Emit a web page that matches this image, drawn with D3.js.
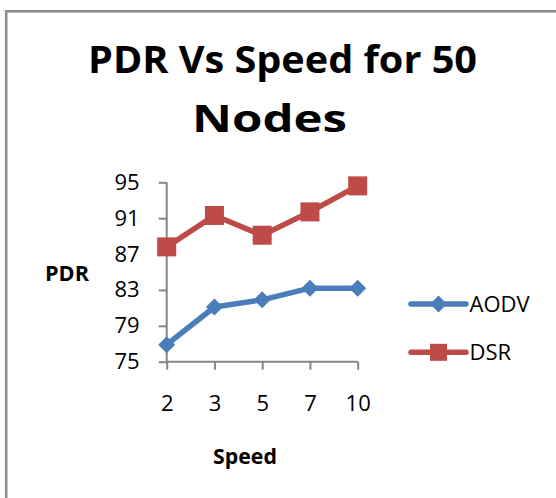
<!DOCTYPE html>
<html>
<head>
<meta charset="utf-8">
<script src="https://cdn.jsdelivr.net/npm/d3@7"></script>
<style>
  body { margin: 0; background: #fff; }
  text { font-family: "Open Sans", "Liberation Sans", sans-serif; fill: #000; }
</style>
</head>
<body>
<div id="chart"></div>
<script>
// data
var speeds = ["2", "3", "5", "7", "10"];
var aodv = [76.9, 81.1, 81.9, 83.2, 83.2];
var dsr = [87.8, 91.3, 89.1, 91.7, 94.6];
var yTicks = [75, 79, 83, 87, 91, 95];
var seriesNames = ["AODV", "DSR"];

var width = 556, height = 498;

var svg = d3.select("#chart")
  .append("svg")
    .attr("width", width)
    .attr("height", height);

// outer frame (right and bottom edges run off the picture)
svg.append("rect")
    .attr("x", 6.2).attr("y", 11.3)
    .attr("width", 600).attr("height", 600)
    .attr("fill", "none")
    .attr("stroke", "#8c8c8c")
    .attr("stroke-width", 2.6);

// squeeze a text to a wanted width
function fit(sel, w) {
  var len = sel.node().getComputedTextLength();
  if (Math.abs(len - w) > 1) sel.attr("textLength", w).attr("lengthAdjust", "spacingAndGlyphs");
  return sel;
}

// title
fit(svg.append("text")
    .attr("x", 88).attr("y", 73)
    .style("font-size", "38px").style("font-weight", "bold")
    .text("PDR Vs Speed for 50"), 389);
fit(svg.append("text")
    .attr("x", 192).attr("y", 131.5)
    .style("font-size", "38px").style("font-weight", "bold")
    .text("Nodes"), 155);

// scales
var x = d3.scalePoint()
    .domain(speeds)
    .range([166.7, 357.7]);
var y = d3.scaleLinear()
    .domain([75, 95])
    .range([361.7, 182.3]);

// y axis
var yAxis = svg.append("g")
    .attr("transform", "translate(166.7,0)")
    .call(d3.axisLeft(y).tickValues(yTicks).tickSize(8).tickPadding(19));
// x axis
var xAxis = svg.append("g")
    .attr("transform", "translate(0,361.7)")
    .call(d3.axisBottom(x).tickSize(8).tickPadding(26).tickSizeOuter(8));

[yAxis, xAxis].forEach(function(a) {
  a.select(".domain").attr("stroke", "#868686").attr("stroke-width", 2);
  a.selectAll(".tick line").attr("stroke", "#868686").attr("stroke-width", 2);
  a.selectAll(".tick text")
    .style("font-size", "22px")
    .style("font-family", "'Open Sans', sans-serif")
    .attr("fill", "#000");
});
yAxis.select(".domain").attr("d", "M0," + y(75) + "V" + y(95));
xAxis.select(".domain").attr("d", "M" + x("2") + ",0H" + x("10"));

// axis titles
fit(svg.append("text")
    .attr("x", 45).attr("y", 280.7)
    .style("font-size", "21px").style("font-weight", "bold")
    .text("PDR"), 44);
fit(svg.append("text")
    .attr("x", 213).attr("y", 464)
    .style("font-size", "22px").style("font-weight", "bold")
    .text("Speed"), 64);

// lines
var colors = { AODV: "#4a7ebb", DSR: "#be4b48" };
var line = d3.line()
    .x(function(d, i) { return x(speeds[i]); })
    .y(function(d) { return y(d); });

function diamond(g, cx, cy, r, c) {
  g.append("path")
    .attr("d", "M" + cx + "," + (cy - r) + "L" + (cx + r) + "," + cy + "L" + cx + "," + (cy + r) + "L" + (cx - r) + "," + cy + "Z")
    .attr("fill", c);
}
function square(g, cx, cy, s, c) {
  g.append("rect")
    .attr("x", cx - s / 2).attr("y", cy - s / 2)
    .attr("width", s).attr("height", s)
    .attr("fill", c);
}

var series = [aodv, dsr];
series.forEach(function(vals, k) {
  var name = seriesNames[k], c = colors[name];
  var g = svg.append("g");
  g.append("path")
    .datum(vals)
    .attr("d", line)
    .attr("fill", "none")
    .attr("stroke", c)
    .attr("stroke-width", 5.5)
    .attr("stroke-linejoin", "round")
    .attr("stroke-linecap", "round");
  vals.forEach(function(v, i) {
    if (name == "AODV") diamond(g, x(speeds[i]), y(v), 8.5, c);
    else square(g, x(speeds[i]), y(v), 19, c);
  });
});

// legend
var legendY = [304, 352.3];
seriesNames.forEach(function(name, k) {
  var c = colors[name];
  var g = svg.append("g");
  g.append("line")
    .attr("x1", 411).attr("x2", 466)
    .attr("y1", legendY[k]).attr("y2", legendY[k])
    .attr("stroke", c).attr("stroke-width", 5.5)
    .attr("stroke-linecap", "round");
  if (name == "AODV") diamond(g, 438.5, legendY[k], 8.5, c);
  else square(g, 438.5, legendY[k], 17, c);
  g.append("text")
    .attr("x", 469.5).attr("y", legendY[k] + 8)
    .style("font-size", "22px")
    .text(name);
});
</script>
</body>
</html>
